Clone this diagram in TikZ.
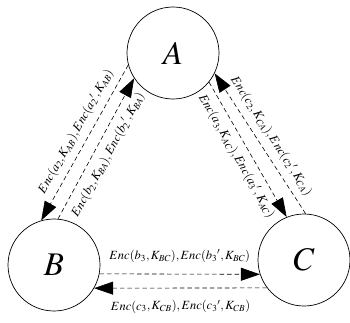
\documentclass[tikz,border=0pt]{standalone}
\usepackage{mathptmx}
\usepackage{fontspec}
\setmainfont{Liberation Serif}
\usetikzlibrary{arrows.meta}

\begin{document}
\begin{tikzpicture}[x=1pt, y=1pt,
  party/.style={circle, draw, line width=0.7pt, minimum size=92pt, inner sep=0pt, font=\fontsize{33}{36}\selectfont},
  msg/.style={-{Triangle[length=19pt, width=13pt]}, dash pattern=on 4.5pt off 3pt, line width=0.6pt},
  lbl/.style={font=\fontsize{12.5}{14}\selectfont, sloped, inner sep=1pt}
]
\useasboundingbox (0,0) rectangle (350,322);

% the three parties
\node[party] (A) at (173,269) {$A$};
\node[party] (B) at (54,57) {$B$};
\node[party] (C) at (304,62) {$C$};

% A <-> B
\draw[msg] (A.195) -- node[lbl, above=5.5pt, pos=0.47] {$Enc(a_2,K_{AB}),Enc({a_2}',K_{AB})$} (B.106);
\draw[msg] (B.85) -- node[lbl, below=5.5pt] {$Enc(b_2,K_{BA}),Enc({b_2}',K_{BA})$} (A.213);

% A <-> C
\draw[msg] (A.321) -- node[lbl, below=5.5pt] {$Enc(a_3,K_{AC}),Enc({a_3}',K_{AC})$} (C.112);
\draw[msg] (C.88) -- node[lbl, above=5.5pt] {$Enc(c_2,K_{CA}),Enc({c_2}',K_{CA})$} (A.334);

% B <-> C
\draw[msg] (B.-11) -- node[lbl, above=10pt] {$Enc(b_3,K_{BC}),Enc({b_3}',K_{BC})$} (C.198);
\draw[msg] (C.217) -- node[lbl, below=11pt] {$Enc(c_3,K_{CB}),Enc({c_3}',K_{CB})$} (B.-30);
\end{tikzpicture}
\end{document}
